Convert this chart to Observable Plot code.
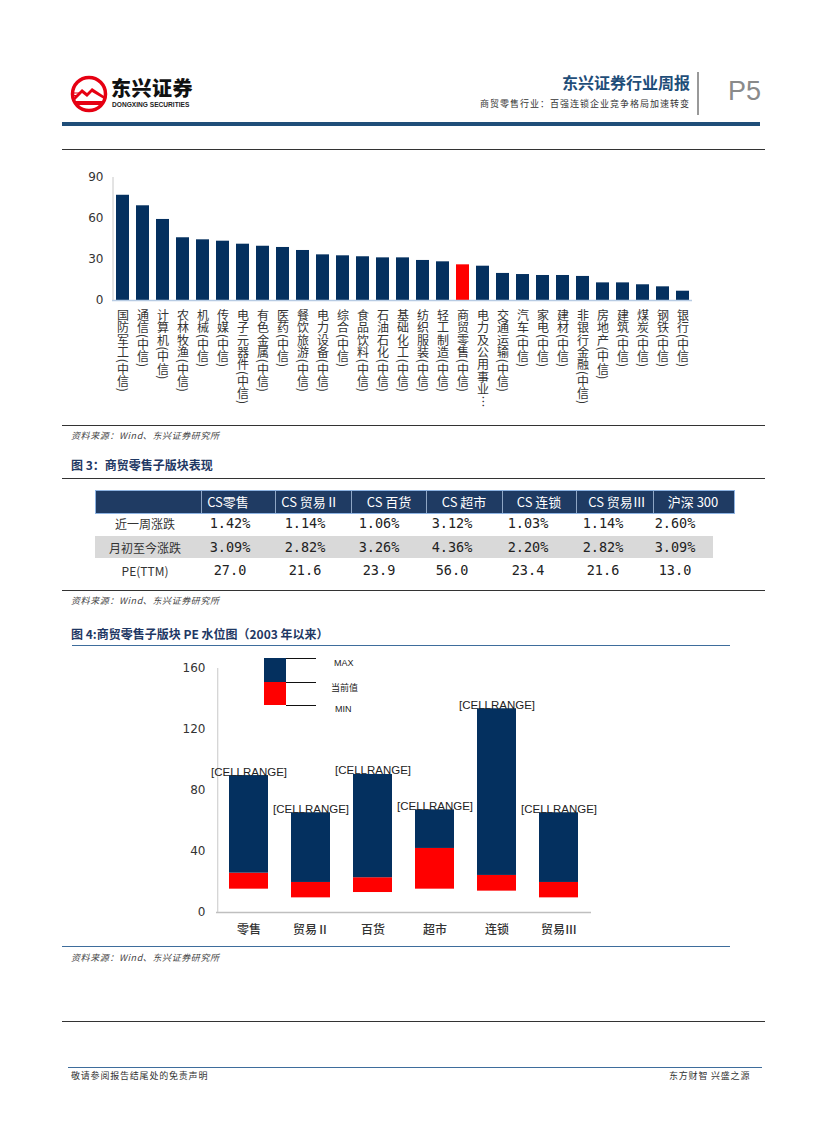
<!DOCTYPE html>
<html><head><meta charset="utf-8">
<script src="https://cdn.jsdelivr.net/npm/d3@7"></script>
<script src="https://cdn.jsdelivr.net/npm/@observablehq/plot@0.6"></script>
<style>
body{margin:0;background:#fff;}
#page{position:relative;width:827px;height:1122px;overflow:hidden;background:#fff;font-family:"Noto Sans CJK SC",sans-serif;color:#333;}
.a{position:absolute;white-space:nowrap;}
.hr{position:absolute;height:0;}
.src{position:absolute;left:71px;font-size:9px;font-style:italic;letter-spacing:0.6px;color:#444;}
.fig{position:absolute;left:71px;font-size:12px;font-weight:700;color:#1f3864;}
.c{position:absolute;transform:translate(-50%,-50%);white-space:nowrap;}
.hdr{color:#fff;font-size:13px;}
.val{font-family:"DejaVu Sans Mono",monospace;font-size:13.5px;color:#222;}
.rowl{font-size:12px;color:#333;}
</style></head><body><div id="page">

<!-- header -->
<svg class="a" style="left:69px;top:74px" width="40" height="40" viewBox="0 0 40 40">
  <circle cx="20" cy="20" r="16.5" fill="#fff" stroke="#e60012" stroke-width="3.5"/>
  <path d="M5,23 L13,15 L18,19 L23,14 L35,22 L35,25 L23,18 L18,23 L13,19 L6,26 Z" fill="#e60012"/>
  <path d="M5,27 L35,27 L33,31 L7,31 Z" fill="#e60012"/>
  <path d="M4,19 L12,19 M4,21.5 L10,21.5" stroke="#e60012" stroke-width="1.2"/>
</svg>
<div class="a" style="left:111px;top:78px;font-size:20px;line-height:20px;font-weight:900;color:#111;letter-spacing:0.5px;">东兴证券</div>
<div class="a" style="left:112px;top:101px;font-family:'Liberation Sans',sans-serif;font-size:6.6px;line-height:7px;font-weight:700;color:#222;">DONGXING SECURITIES</div>
<div class="a" style="right:137px;top:70px;font-size:16px;font-weight:700;color:#1f4e79;">东兴证券行业周报</div>
<div class="a" style="right:137px;top:97px;font-size:9px;letter-spacing:1px;color:#333;">商贸零售行业：百强连锁企业竞争格局加速转变</div>
<div class="a" style="left:697px;top:72px;width:1.5px;height:43px;background:#999;"></div>
<div class="a" style="left:728px;top:76px;font-family:'Liberation Sans',sans-serif;font-size:27px;color:#8a8a8a;">P5</div>
<div class="hr" style="left:62px;top:122px;width:698px;border-top:4px solid #1f4e79;"></div>
<div class="hr" style="left:62px;top:149px;width:703px;border-top:1.5px solid #333;"></div>

<div id="chart1" class="a" style="left:60px;top:160px;"></div>

<div class="hr" style="left:62px;top:425px;width:703px;border-top:1.5px solid #333;"></div>
<div class="src" style="top:429px;">资料来源：Wind、东兴证券研究所</div>
<div class="fig" style="top:456px;">图 3：商贸零售子版块表现</div>
<div class="hr" style="left:62px;top:478px;width:703px;border-top:1.5px solid #333;"></div>

<div id="table" class="a" style="left:0;top:0;width:827px;height:600px;"></div>

<div class="hr" style="left:62px;top:590px;width:703px;border-top:1.5px solid #333;"></div>
<div class="src" style="top:594px;">资料来源：Wind、东兴证券研究所</div>
<div class="fig" style="top:625px;">图 4:商贸零售子版块 PE 水位图（2003 年以来）</div>
<div class="hr" style="left:72px;top:645px;width:658px;border-top:1.5px solid #3e6d9c;"></div>

<div id="chart2" class="a" style="left:150px;top:650px;"></div>

<!-- legend -->
<div class="a" style="left:264px;top:658px;width:22px;height:24px;background:#04305f;"></div>
<div class="a" style="left:264px;top:682px;width:22px;height:23px;background:#ff0000;"></div>
<div class="a" style="left:286px;top:657.5px;width:30px;height:1px;background:#111;"></div>
<div class="a" style="left:286px;top:681.5px;width:30px;height:1px;background:#111;"></div>
<div class="a" style="left:286px;top:704.5px;width:30px;height:1px;background:#111;"></div>
<div class="a" style="left:334px;top:658px;font-family:'Liberation Sans',sans-serif;font-size:9px;color:#222;">MAX</div>
<div class="a" style="left:331px;top:681px;font-size:9px;color:#222;">当前值</div>
<div class="a" style="left:335px;top:704px;font-family:'Liberation Sans',sans-serif;font-size:9px;color:#222;">MIN</div>

<div class="hr" style="left:62px;top:946px;width:668px;border-top:1.5px solid #3e6d9c;"></div>
<div class="src" style="top:951px;">资料来源：Wind、东兴证券研究所</div>

<div class="hr" style="left:62px;top:1021px;width:703px;border-top:1.5px solid #333;"></div>
<div class="hr" style="left:68px;top:1067px;width:694px;border-top:1px solid #3e6d9c;"></div>
<div class="a" style="left:71px;top:1069px;font-size:9px;letter-spacing:0.8px;color:#333;">敬请参阅报告结尾处的免责声明</div>
<div class="a" style="left:669px;top:1069px;font-size:9px;letter-spacing:0.8px;color:#333;">东方财智 兴盛之源</div>

</div>
<script>
// ---------- data ----------
const industries = ["国防军工(中信)","通信(中信)","计算机(中信)","农林牧渔(中信)","机械(中信)","传媒(中信)","电子元器件(中信)","有色金属(中信)","医药(中信)","餐饮旅游(中信)","电力设备(中信)","综合(中信)","食品饮料(中信)","石油石化(中信)","基础化工(中信)","纺织服装(中信)","轻工制造(中信)","商贸零售(中信)","电力及公用事业…","交通运输(中信)","汽车(中信)","家电(中信)","建材(中信)","非银行金融(中信)","房地产(中信)","建筑(中信)","煤炭(中信)","钢铁(中信)","银行(中信)"];
const industryValues = [77.0,69.3,59.3,45.9,44.4,43.4,41.2,39.7,38.8,36.6,33.4,32.7,32.0,31.2,31.2,29.3,28.3,26.1,25.1,19.8,19.0,18.3,18.3,17.6,12.9,12.9,11.5,10.0,6.8];
const highlight = "商贸零售(中信)";
const topTicks = [0,30,60,90];

const tableColumns = ["CS零售","CS 贸易Ⅱ","CS 百货","CS 超市","CS 连锁","CS 贸易Ⅲ","沪深 300"];
const tableRows = ["近一周涨跌","月初至今涨跌","PE(TTM)"];
const weekChange = ["1.42%","1.14%","1.06%","3.12%","1.03%","1.14%","2.60%"];
const monthChange = ["3.09%","2.82%","3.26%","4.36%","2.20%","2.82%","3.09%"];
const peTTM = ["27.0","21.6","23.9","56.0","23.4","21.6","13.0"];

const sectors = ["零售","贸易Ⅱ","百货","超市","连锁","贸易Ⅲ"];
const peMax = [89.8,65.4,90.5,67.3,133.6,65.4];
const peCur = [25.8,19.7,22.8,42.0,24.3,19.7];
const peMin = [15.3,9.6,13.1,15.3,14.0,9.6];
const bottomTicks = [0,40,80,120,160];

// ---------- chart 1 ----------
const topData = industries.map((name, i) => ({name, value: industryValues[i]}));
const chart1 = Plot.plot({
  width: 650, height: 270,
  marginLeft: 52, marginRight: 18, marginTop: 17, marginBottom: 130,
  style: {fontFamily: "DejaVu Sans, sans-serif", fontSize: "12px", color: "#333", background: "transparent"},
  x: {domain: industries, paddingInner: 0.365, paddingOuter: 0.18, axis: null},
  y: {domain: [0, 90], ticks: topTicks, tickSize: 0, tickPadding: 9, label: null},
  marks: [
    Plot.barY(topData, {x: "name", y: "value", fill: d => d.name === highlight ? "#ff0000" : "#04305f"}),
    Plot.ruleY([0], {stroke: "#b8cce4", strokeWidth: 1.5}),
    Plot.ruleX([industries[0]], {y1: 0, y2: 90, dx: -10, stroke: "#c8c8c8"}),
    Plot.text(industries, {x: d => d, text: d => d, frameAnchor: "bottom", textAnchor: "start", dy: 9, fontSize: 12, fill: "#333", fontFamily: "Noto Sans CJK SC"})
  ]
});
d3.select(chart1).selectAll("g[aria-label='text'] text").style("writing-mode", "vertical-rl").style("letter-spacing", "0.3px");
document.getElementById("chart1").appendChild(chart1);

// ---------- table ----------
const tbl = document.getElementById("table");
function add(html, style, cls) {
  const d = document.createElement("div");
  d.className = cls || "a";
  d.setAttribute("style", style);
  d.textContent = html;
  tbl.appendChild(d);
  return d;
}
add("", "left:95px;top:490px;width:638px;height:22px;background:#1f3b63;border:1px solid #8db3e2;");
[201, 275, 351, 426, 502, 576, 653].forEach(x => add("", `left:${x}px;top:491px;width:1px;height:22px;background:#8fa6c4;`));
add("", "left:95px;top:536px;width:618px;height:22px;background:#d9d9d9;");
const hdrX = [228, 310, 389, 464, 539, 617, 693];
const valX = [230, 305, 379, 452, 528, 603, 675];
tableColumns.forEach((t, i) => add(t, `left:${hdrX[i]}px;top:501px;`, "c hdr"));
const rowY = [523, 547, 570];
const rowVals = [weekChange, monthChange, peTTM];
tableRows.forEach((t, r) => {
  add(t, `left:145px;top:${rowY[r]}px;`, "c rowl");
  rowVals[r].forEach((v, i) => add(v, `left:${valX[i]}px;top:${rowY[r]}px;`, "c val"));
});

// ---------- chart 2 ----------
const peData = sectors.map((s, i) => ({sector: s, max: peMax[i], cur: peCur[i], min: peMin[i]}));
const chart2 = Plot.plot({
  width: 470, height: 300,
  marginLeft: 66, marginRight: 29, marginTop: 18, marginBottom: 38,
  style: {fontFamily: "DejaVu Sans, sans-serif", fontSize: "12px", color: "#333", background: "transparent"},
  x: {domain: sectors, paddingInner: 0.375, paddingOuter: 0.1875, label: null, tickSize: 0, tickPadding: 13},
  y: {domain: [0, 160], ticks: bottomTicks, tickSize: 0, tickPadding: 11, label: null},
  marks: [
    Plot.barY(peData, {x: "sector", y1: "min", y2: "cur", fill: "#ff0000"}),
    Plot.barY(peData, {x: "sector", y1: "cur", y2: "max", fill: "#04305f"}),
    Plot.ruleY([0], {stroke: "#bfbfbf", strokeWidth: 1.5}),
    Plot.ruleX([sectors[0]], {y1: 0, y2: 160, dx: -31.25, stroke: "#c8c8c8"}),
    Plot.text(peData, {x: "sector", y: "max", text: () => "[CELLRANGE]", lineAnchor: "bottom", dy: 0, fontSize: 11.5, fill: "#222", fontFamily: "Liberation Sans"})
  ]
});
d3.select(chart2).selectAll("g[aria-label='x-axis tick label'] text").style("font-family", "Noto Sans CJK SC").style("font-size", "12px").style("font-weight", "500");
document.getElementById("chart2").appendChild(chart2);
</script>
</body></html>
